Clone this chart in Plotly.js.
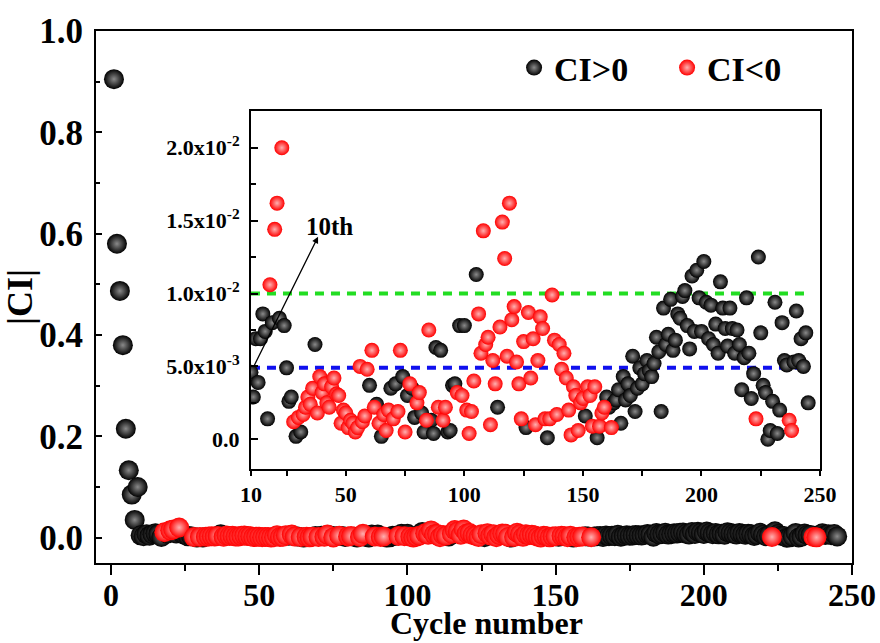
<!DOCTYPE html>
<html><head><meta charset="utf-8">
<script src="https://cdn.plot.ly/plotly-3.0.1.min.js"></script>
<style>html,body{margin:0;padding:0;background:#fff;}</style>
</head><body><div id="chart" style="width:880px;height:643px;"></div>
<script>
// ---- data ----
const earlyCycles = [1,2,3,4,5,6,7,8,9];
const earlyCI = [0.905,0.58,0.487,0.38,0.215,0.133,0.085,0.035,0.1];

const posCycles = [10,11,12,13,14,15,16,17,19,22,24,25,26,27,29,31,37,60,63,65,69,71,74,76,78,79,82,83,86,87,88,90,93,94,95,96,98,100,105,114,126,135,151,156,160,161,
163,164,165,166,167,168,169,170,171,172,173,174,175,176,177,178,179,180,181,182,183,184,185,186,187,188,189,190,191,192,193,194,195,196,197,198,199,200,201,202,203,204,205,206,207,208,209,210,211,212,213,214,215,216,217,218,219,220,221,222,224,225,226,227,228,229,230,231,232,233,234,235,236,239,240,241,242,243,244,245];
const posCI = [0.0046,0.0029,0.0069,0.0039,0.0069,0.0086,0.0074,0.0014,0.0080,0.0083,0.0078,0.0049,0.0026,0.0029,0.0002,0.0005,0.0065,0.0037,0.0024,0.0002,0.0035,0.0038,0.0043,0.0030,0.0035,0.0015,0.0018,0.0005,0.0013,0.0004,0.0063,0.0061,0.0005,0.0006,0.0037,0.0038,0.0078,0.0078,0.0113,0.0022,0.0008,0.0001,0.0016,0.0001,0.0029,0.0022,
0.0025,0.0027,0.0034,0.0011,0.0043,0.0027,0.0038,0.0030,0.0057,0.0019,0.0035,0.0049,0.0038,0.0045,0.0054,0.0047,0.0043,0.0052,0.0070,0.0060,0.0019,0.0090,0.0065,0.0072,0.0096,0.0061,0.0068,0.0086,0.0083,0.0098,0.0102,0.0078,0.0062,0.0112,0.0074,0.0116,0.0097,0.0074,0.0122,0.0094,0.0069,0.0092,0.0065,0.0079,0.0059,0.0108,0.0090,0.0076,0.0064,0.0090,0.0076,0.0059,0.0075,0.0065,0.0034,0.0056,0.0097,0.0059,0.0028,0.0045,0.0125,0.0073,0.0037,0.0032,0.0000,0.0006,0.0026,0.0094,0.0004,0.0020,0.0080,0.0054,0.0051,0.0053,0.0088,0.0054,0.0069,0.0050,0.0073,0.0025];

const negCycles = [18,20,21,23,28,30,32,33,34,35,36,38,39,40,41,42,43,44,45,46,47,48,49,50,51,52,53,54,55,56,57,58,59,61,62,64,66,67,68,70,72,73,75,77,80,81,84,85,89,91,92,97,99,101,102,103,104,106,107,108,109,110,111,112,113,115,116,117,118,119,120,121,122,123,124,125,127,128,129,130,131,132,133,134,136,137,138,139,140,141,142,143,144,145,146,147,148,149,150,152,153,154,155,157,158,159,162,223,237,238];
const negCI = [0.0106,0.0144,0.0162,0.0200,0.0012,0.0015,0.0017,0.0022,0.0029,0.0024,0.0035,0.0018,0.0043,0.0032,0.0038,0.0025,0.0022,0.0036,0.0042,0.0031,0.0030,0.0011,0.0020,0.0018,0.0008,0.0013,0.0011,0.0005,0.0008,0.0050,0.0012,0.0016,0.0048,0.0061,0.0022,0.0011,0.0017,0.0006,0.0020,0.0014,0.0019,0.0061,0.0005,0.0038,0.0025,0.0032,0.0013,0.0075,0.0022,0.0013,0.0022,0.0032,0.0030,0.0020,0.0004,0.0019,0.0040,0.0086,0.0059,0.0143,0.0065,0.0070,0.0010,0.0054,0.0038,0.0077,0.0149,0.0124,0.0057,0.0162,0.0082,0.0091,0.0053,0.0038,0.0014,0.0067,0.0087,0.0042,0.0069,0.0010,0.0054,0.0084,0.0076,0.0014,0.0014,0.0099,0.0068,0.0017,0.0065,0.0048,0.0059,0.0042,0.0020,0.0003,0.0036,0.0030,0.0006,0.0025,0.0028,0.0036,0.0030,0.0009,0.0036,0.0009,0.0018,0.0022,0.0008,0.0014,0.0013,0.0006];

const refLineX = [10, 245];
const greenLevel = 0.01;
const blueLevel = 0.0049;

const mainXTicks = [0,50,100,150,200,250];
const mainYTicks = [0,0.2,0.4,0.6,0.8,1.0];
const insetXTicks = [10,50,100,150,200,250];
const insetYTicks = [0,0.005,0.01,0.015,0.02];
const insetYLabels = ['0.0','5.0x10<sup>-3</sup>','1.0x10<sup>-2</sup>','1.5x10<sup>-2</sup>','2.0x10<sup>-2</sup>'];

// ---- styles ----
const FONT = 'Liberation Serif, Times New Roman, serif';
const blackBall = {color:'#000000', gradient:{type:'radial', color:'#8a8a8a'}, line:{width:0}};
const redBall = {color:'#ff0000', gradient:{type:'radial', color:'#ffb0b0'}, line:{width:0}};

const traces = [
  {x: earlyCycles.concat(posCycles), y: earlyCI.concat(posCI), type:'scatter', mode:'markers', name:'CI>0',
   marker: Object.assign({size:20}, blackBall), xaxis:'x', yaxis:'y'},
  {x: negCycles, y: negCI, type:'scatter', mode:'markers', name:'CI<0',
   marker: Object.assign({size:20}, redBall), xaxis:'x', yaxis:'y'},
  {x: refLineX, y: [greenLevel, greenLevel], type:'scatter', mode:'lines', showlegend:false,
   line:{color:'#22dd22', width:4, dash:'9px,7px'}, xaxis:'x2', yaxis:'y2'},
  {x: refLineX, y: [blueLevel, blueLevel], type:'scatter', mode:'lines', showlegend:false,
   line:{color:'#1010ee', width:4, dash:'9px,7px'}, xaxis:'x2', yaxis:'y2'},
  {x: posCycles, y: posCI, type:'scatter', mode:'markers', showlegend:false,
   marker: Object.assign({size:15}, blackBall), xaxis:'x2', yaxis:'y2'},
  {x: negCycles, y: negCI, type:'scatter', mode:'markers', showlegend:false,
   marker: Object.assign({size:15}, redBall), xaxis:'x2', yaxis:'y2'}
];

const tickFont = {family: FONT, size: 32, color:'#000', weight:'bold'};
const insetFont = {family: FONT, size: 22, color:'#000', weight:'bold'};

const layout = {
  width: 880, height: 643,
  margin: {l:96, r:28, t:31, b:80, autoexpand:false},
  paper_bgcolor:'#ffffff', plot_bgcolor:'#ffffff',
  showlegend: true,
  legend: {orientation:'h', x:0.553, y:0.985, xanchor:'left', yanchor:'top',
           font:{family:FONT, size:34, color:'#000', weight:'bold'}, entrywidth:108, entrywidthmode:'pixels',
           bgcolor:'rgba(0,0,0,0)', itemsizing:'trace', tracegroupgap:0},
  xaxis: {range:[-5.06, 250], automargin:false, showgrid:false, zeroline:false, showline:true, linecolor:'#000', linewidth:2,
          mirror:true, ticks:'outside', ticklen:10, tickwidth:2, tickcolor:'#000',
          tickvals: mainXTicks, ticktext: mainXTicks.map(String), tickfont: tickFont, ticklabelstandoff:-7,
          minor:{tickmode:'linear', tick0:0, dtick:25, ticks:'outside', ticklen:6, tickwidth:2, tickcolor:'#000'}},
  yaxis: {range:[-0.05, 1.0], automargin:false, showgrid:false, zeroline:false, showline:true, linecolor:'#000', linewidth:2,
          mirror:true, ticks:'inside', ticklen:6, tickwidth:2, tickcolor:'#000',
          tickvals: mainYTicks, ticktext: mainYTicks.map(v=>v.toFixed(1)), tickfont: {family: FONT, size: 35, color:'#000', weight:'bold'},
          ticklabelstandoff: 4,
          minor:{tickmode:'linear', tick0:0, dtick:0.1, ticks:'inside', ticklen:4, tickwidth:2, tickcolor:'#000'},
          title:{text:'|CI|', font:{family:FONT, size:36, color:'#000', weight:'bold'}, standoff:2}},
  xaxis2: {domain:[0.205, 0.9577], anchor:'y2', range:[10, 250], automargin:false, showgrid:false, zeroline:false,
          showline:true, linecolor:'#000', linewidth:2, mirror:true,
          ticks:'outside', ticklen:5, tickwidth:2, tickcolor:'#000',
          tickvals: insetXTicks, ticktext: insetXTicks.map(String), tickfont: insetFont,
          minor:{tickmode:'linear', tick0:0, dtick:25, ticks:'outside', ticklen:5, tickwidth:2, tickcolor:'#000'}},
  yaxis2: {domain:[0.1767, 0.8496], anchor:'x2', range:[-0.00204, 0.02252], automargin:false, showgrid:false, zeroline:false,
          showline:true, linecolor:'#000', linewidth:2, mirror:true,
          ticks:'inside', ticklen:7, tickwidth:2, tickcolor:'#000',
          tickvals: insetYTicks, ticktext: insetYLabels, tickfont: insetFont, ticklabelstandoff: 5,
          minor:{tickmode:'linear', tick0:0, dtick:0.0025, ticks:'inside', ticklen:5, tickwidth:2, tickcolor:'#000'}},
  annotations: [
    {xref:'paper', yref:'paper', x:0.516, y:-0.1504, xanchor:'center', yanchor:'bottom', text:'Cycle number',
     showarrow:false, font:{family:FONT, size:32, color:'#000', weight:'bold'}},
    {xref:'x2', yref:'y2', axref:'x2', ayref:'y2', x:38.3, y:0.0139, ax:10.8, ay:0.00487,
     text:'', showarrow:true, arrowhead:2, arrowsize:1, arrowwidth:1.3, arrowcolor:'#000'},
    {xref:'x2', yref:'y2', x:43, y:0.0146, text:'10th', showarrow:false,
     font:{family:FONT, size:25, color:'#000', weight:'bold'}}
  ]
};

Plotly.newPlot('chart', traces, layout, {displayModeBar:false, staticPlot:true});
</script>
</body></html>
